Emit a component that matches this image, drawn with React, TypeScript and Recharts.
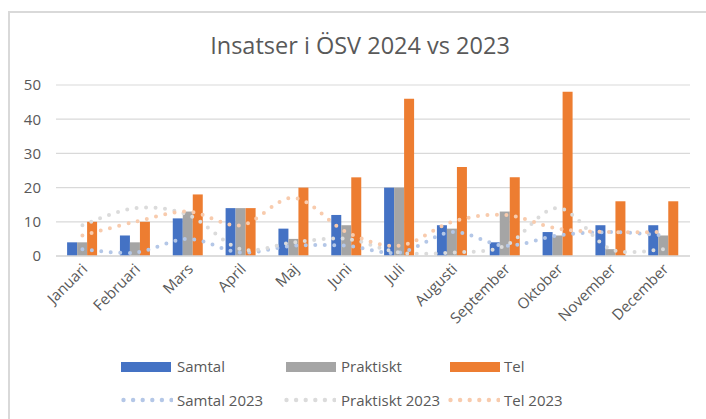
import React from "react";
import { ComposedChart, Bar, Line, XAxis, YAxis, CartesianGrid } from "recharts";

const months = [
  "Januari", "Februari", "Mars", "April", "Maj", "Juni",
  "Juli", "Augusti", "September", "Oktober", "November", "December",
];
const samtal2024 = [4, 6, 11, 14, 8, 12, 20, 9, 4, 7, 9, 9];
const praktiskt2024 = [4, 4, 13, 14, 5, 9, 20, 8, 13, 6, 2, 6];
const tel2024 = [10, 10, 18, 14, 20, 23, 46, 26, 23, 48, 16, 16];
const samtal2023 = [2, 1, 5, 1, 3, 3, 1, 7, 3, 6, 7, 6];
const praktiskt2023 = [9, 14, 12, 2, 4, 5, 1, 1, 3, 14, 2, 2];
const tel2023 = [6, 10, 13, 9, 17, 7, 3, 10, 12, 8, 7, 7];
const yTicks = [0, 10, 20, 30, 40, 50];

const data = months.map((m, i) => ({
  month: m,
  samtal: samtal2024[i],
  praktiskt: praktiskt2024[i],
  tel: tel2024[i],
  samtal23: samtal2023[i],
  praktiskt23: praktiskt2023[i],
  tel23: tel2023[i],
}));

const BLUE = "#4472C4";
const GREY = "#A5A5A5";
const ORANGE = "#ED7D31";
const BLUE_L = "#B4C7E7";
const GREY_L = "#DBDBDB";
const ORANGE_L = "#F8CBAD";
const TEXT = "#595959";
const FONT = "'Open Sans', 'Noto Sans', sans-serif";

// excel-ish smoothed line (catmull-rom through the points)
const smooth = (context: any) => {
  let pts: number[][] = [];
  return {
    areaStart() {},
    areaEnd() {},
    lineStart() {
      pts = [];
    },
    point(x: number, y: number) {
      pts.push([+x, +y]);
    },
    lineEnd() {
      if (!pts.length) return;
      context.moveTo(pts[0][0], pts[0][1]);
      const t = 1 / 6;
      for (let i = 0; i < pts.length - 1; i++) {
        const p0 = pts[i - 1] || pts[i];
        const p1 = pts[i];
        const p2 = pts[i + 1];
        const p3 = pts[i + 2] || p2;
        context.bezierCurveTo(
          p1[0] + (p2[0] - p0[0]) * t,
          p1[1] + (p2[1] - p0[1]) * t,
          p2[0] - (p3[0] - p1[0]) * t,
          p2[1] - (p3[1] - p1[1]) * t,
          p2[0],
          p2[1]
        );
      }
    },
  };
};

const MonthTick = ({ x, y, payload }: any) => {
  const tx = x + 6;
  const ty = y + 6;
  return (
    <text
      x={tx}
      y={ty}
      transform={`rotate(-45 ${tx} ${ty})`}
      textAnchor="end"
      fill={TEXT}
      fontSize={15}
      fontFamily={FONT}
    >
      {payload.value}
    </text>
  );
};

const dotted = { strokeWidth: 4, strokeDasharray: "0 9.5", strokeLinecap: "round" as const };

const legendRows = [
  [
    { name: "Samtal", color: BLUE, x: 121, tx: 177 },
    { name: "Praktiskt", color: GREY, x: 286, tx: 341 },
    { name: "Tel", color: ORANGE, x: 450, tx: 504 },
  ],
  [
    { name: "Samtal 2023", color: BLUE_L, x: 121, tx: 177 },
    { name: "Praktiskt 2023", color: GREY_L, x: 284, tx: 341 },
    { name: "Tel 2023", color: ORANGE_L, x: 448, tx: 504 },
  ],
];

export default function App() {
  return (
    <div
      style={{
        position: "absolute",
        left: 0,
        top: 0,
        width: 706,
        height: 419,
        background: "#fff",
        fontFamily: FONT,
        overflow: "hidden",
      }}
    >
      <div
        style={{
          position: "absolute",
          left: 8,
          top: 11,
          width: 720,
          height: 420,
          borderLeft: "2px solid #D9D9D9",
          borderTop: "2px solid #D9D9D9",
        }}
      />
      <div
        style={{
          position: "absolute",
          left: 360,
          top: 30,
          transform: "translateX(-50%)",
          whiteSpace: "nowrap",
          fontSize: 23.5,
          lineHeight: "30px",
          color: TEXT,
        }}
      >
        Insatser i ÖSV 2024 vs 2023
      </div>
      <ComposedChart
        width={706}
        height={419}
        data={data}
        margin={{ top: 85, right: 16, left: 16, bottom: 0 }}
        barGap={0}
        barCategoryGap="21%"
      >
        <CartesianGrid vertical={false} stroke="#D9D9D9" strokeWidth={1.2} />
        <XAxis
          dataKey="month"
          height={163}
          axisLine={{ stroke: "#D9D9D9", strokeWidth: 1.5 }}
          tickLine={false}
          interval={0}
          tick={<MonthTick />}
        />
        <YAxis
          width={40}
          domain={[0, 50]}
          ticks={yTicks}
          axisLine={false}
          tickLine={false}
          tickSize={0}
          tickMargin={15}
          tick={{ fill: TEXT, fontSize: 15, fontFamily: FONT }}
        />
        <Bar dataKey="samtal" fill={BLUE} isAnimationActive={false} />
        <Bar dataKey="praktiskt" fill={GREY} isAnimationActive={false} />
        <Bar dataKey="tel" fill={ORANGE} isAnimationActive={false} />
        <Line dataKey="samtal23" type={smooth as any} stroke={BLUE_L} {...dotted} dot={false} activeDot={false} isAnimationActive={false} />
        <Line dataKey="praktiskt23" type={smooth as any} stroke={GREY_L} {...dotted} dot={false} activeDot={false} isAnimationActive={false} />
        <Line dataKey="tel23" type={smooth as any} stroke={ORANGE_L} {...dotted} dot={false} activeDot={false} isAnimationActive={false} />
      </ComposedChart>
      {legendRows.map((row, r) =>
        row.map((it) => (
          <React.Fragment key={it.name}>
            {r === 0 ? (
              <div
                style={{
                  position: "absolute",
                  left: it.x,
                  top: 362,
                  width: 50,
                  height: 10,
                  background: it.color,
                }}
              />
            ) : (
              <svg
                style={{ position: "absolute", left: it.x, top: 396 }}
                width={52}
                height={8}
              >
                {[0, 1, 2, 3, 4, 5].map((k) => (
                  <circle key={k} cx={2.5 + k * 9.6} cy={4} r={2.2} fill={it.color} />
                ))}
              </svg>
            )}
            <div
              style={{
                position: "absolute",
                left: it.tx,
                top: r === 0 ? 356 : 390,
                fontSize: 15,
                lineHeight: "21px",
                color: TEXT,
                whiteSpace: "nowrap",
              }}
            >
              {it.name}
            </div>
          </React.Fragment>
        ))
      )}
    </div>
  );
}
